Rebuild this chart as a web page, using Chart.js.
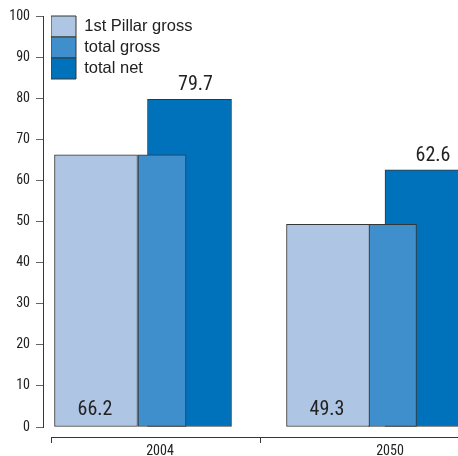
<!DOCTYPE html>
<html><head><meta charset="utf-8">
<script src="https://cdn.jsdelivr.net/npm/chart.js@4/dist/chart.umd.min.js"></script>
<style>html,body{margin:0;padding:0;background:#fff}canvas{display:block}</style>
</head><body>
<canvas id="c" width="458" height="456"></canvas>
<script>
// ---- data ----
const categories = ['2004', '2050'];
const seriesNames = ['1st Pillar gross', 'total gross', 'total net'];
const pillarGross = [66.2, 49.3];
const totalGross = [66.2, 49.3];
const totalNet = [79.7, 62.6];
const yTickValues = [0, 10, 20, 30, 40, 50, 60, 70, 80, 90, 100];

// ---- style / layout ----
const NARROW = '"Roboto Condensed", "DejaVu Sans Condensed", sans-serif';
const SANS = '"Liberation Sans", Arial, sans-serif';
const INK = '#222222';
const EDGE = '#363636';
const AREA_L = 51, AREA_R = 458;

// hidden band axis: category index i -> pixel c0 + i*(c1-c0)
function bandAxis(c0, c1) {
  const pitch = c1 - c0;
  const min = -(c0 - AREA_L) / pitch;
  return { type: 'linear', display: false, bounds: 'data', offset: false, grid: { offset: false },
           min, max: min + (AREA_R - AREA_L) / pitch };
}
const labelAxis = bandAxis(160, 390);
const separatorValues = [labelAxis.min, (260 - 160) / 230];

const pts = arr => categories.map((c, i) => ({ x: i, y: arr[i] }));

const valueLabels = {
  id: 'valueLabels',
  afterDatasetsDraw(chart) {
    const ctx = chart.ctx;
    ctx.save();
    ctx.font = '20px ' + NARROW;
    ctx.fillStyle = INK;
    ctx.textAlign = 'center';
    ctx.textBaseline = 'middle';
    chart.getDatasetMeta(0).data.forEach((bar, i) => ctx.fillText(pillarGross[i].toFixed(1), bar.x - 1, bar.base - 17));
    chart.getDatasetMeta(2).data.forEach((bar, i) => ctx.fillText(totalNet[i].toFixed(1), bar.x + 6, bar.y - 14));
    ctx.restore();
  }
};

new Chart(document.getElementById('c'), {
  type: 'bar',
  data: {
    datasets: [
      { label: seriesNames[0], data: pts(pillarGross), xAxisID: 'xa', yAxisID: 'y', backgroundColor: '#aec6e4', barThickness: 83 },
      { label: seriesNames[1], data: pts(totalGross), xAxisID: 'xb', yAxisID: 'y', backgroundColor: '#3f8fcd', barThickness: 48 },
      { label: seriesNames[2], data: pts(totalNet), xAxisID: 'xc', yAxisID: 'y', backgroundColor: '#0072bc', barThickness: 84 }
    ]
  },
  options: {
    responsive: false,
    animation: false,
    events: [],
    layout: { padding: { left: 10, top: 16, right: 0, bottom: 0 } },
    datasets: { bar: { grouped: false, borderColor: EDGE, borderWidth: 1, borderSkipped: false } },
    scales: {
      y: {
        position: 'left', weight: 1, min: 0, max: 100,
        afterBuildTicks: s => { s.ticks = yTickValues.map(v => ({ value: v })); },
        ticks: { padding: 6, color: INK, font: { family: NARROW, size: 14 } },
        grid: { drawOnChartArea: false, tickLength: 7, color: '#666' },
        border: { color: EDGE, width: 1 },
        afterFit: s => { s.width = 33; }
      },
      xa: bandAxis(96, 328),
      xb: bandAxis(162, 392.5),
      xc: bandAxis(189.5, 427),
      xgap: { type: 'linear', position: 'bottom', weight: 0, grid: { display: false }, border: { display: false }, ticks: { display: false }, afterFit: s => { s.height = 10; } },
      x: {
        ...labelAxis, display: true, position: 'bottom', weight: 1,
        afterBuildTicks: s => {
          s.ticks = separatorValues.map(v => ({ value: v }))
            .concat(categories.map((c, i) => ({ value: i })))
            .sort((a, b) => a.value - b.value);
        },
        ticks: { autoSkip: false, maxRotation: 0, padding: 0, color: INK, font: { family: NARROW, size: 14 },
          callback: v => Number.isInteger(v) ? categories[v] : '' },
        grid: { offset: false, drawOnChartArea: false, tickLength: 6, tickWidth: 1,
          color: c => (c.tick && Number.isInteger(c.tick.value)) ? 'rgba(0,0,0,0)' : EDGE },
        border: { color: EDGE, width: 1 },
        afterFit: s => { s.height = 19; }
      },
      ygap: { type: 'linear', position: 'left', weight: 0, grid: { display: false }, border: { display: false }, ticks: { display: false }, afterFit: s => { s.width = 8; } }
    },
    plugins: {
      legend: {
        position: 'chartArea', align: 'start',
        title: { display: true, text: '', padding: { top: 15, bottom: 0 }, font: { size: 1, lineHeight: 1 } },
        labels: { boxWidth: 25, boxHeight: 21, padding: 0, color: INK, font: { family: SANS, size: 16.5 } }
      },
      tooltip: { enabled: false }
    }
  },
  plugins: [valueLabels]
});
</script>
</body></html>
